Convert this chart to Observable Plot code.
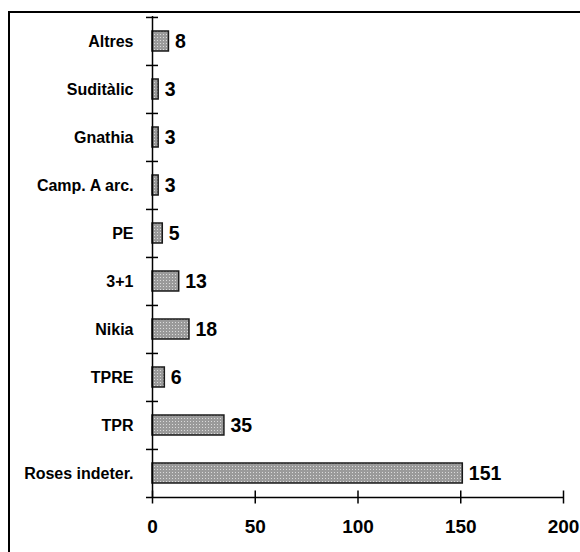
<!DOCTYPE html>
<html><head><meta charset="utf-8">
<script src="https://cdn.jsdelivr.net/npm/d3@7"></script>
<script src="https://cdn.jsdelivr.net/npm/@observablehq/plot@0.6"></script>
<style>
body{margin:0;width:580px;height:552px;overflow:hidden;background:#fff;position:relative}
#frame{position:absolute;left:8px;top:11px;width:640px;height:640px;border-top:2px solid #000;border-left:2px solid #000;box-sizing:border-box}
#chart{position:absolute;left:0;top:0}
</style></head><body><div id="frame"></div><div id="chart"></div>
<script>
const categories = ["Altres","Suditàlic","Gnathia","Camp. A arc.","PE","3+1","Nikia","TPRE","TPR","Roses indeter."];
const values = [8,3,3,3,5,13,18,6,35,151];
const xTicks = [0,50,100,150,200];

const data = categories.map((c,i)=>({category:c, value:values[i]}));
const W=580,H=552, mt=16, mb=55, ml=152, mr=17;
const step = (H-mt-mb)/categories.length;
const font = "Arial, 'Liberation Sans', sans-serif";
const last = categories[categories.length-1];

const plot = Plot.plot({
  width:W, height:H, marginTop:mt, marginBottom:mb, marginLeft:ml, marginRight:mr,
  style:{fontFamily: font, background:"transparent", overflow:"visible", color:"#000"},
  x:{domain:[0,200], ticks: xTicks},
  y:{domain:categories, paddingInner:0.59, paddingOuter:0.295},
  marks:[
    Plot.barX(data,{x:"value", y:"category", fill:"url(#stipple)", stroke:"#1a1a1a", strokeWidth:1.5}),
    Plot.ruleX([0],{stroke:"#000", strokeWidth:1.5}),
    Plot.ruleY(data,{y:"category", x1:0, x2:0, insetLeft:-6, insetRight:-6, dy:-step/2, stroke:"#000", strokeWidth:1.5}),
    Plot.ruleY([last],{y:d=>d, x1:0, x2:200, insetLeft:-6, dy:step/2, stroke:"#000", strokeWidth:1.5}),
    Plot.axisY({tickSize:0, tickPadding:19, fontSize:16, fontWeight:"bold", fill:"#000", label:null}),
    Plot.axisX({tickSize:13, dy:-6.5, tickPadding:15.5, fontSize:19, fontWeight:"bold", fill:"#000", stroke:"#000", strokeWidth:1.5, label:null}),
    Plot.text(data,{x:"value", y:"category", text:d=>String(d.value), dx:6, textAnchor:"start", fontSize:19.5, fontWeight:"bold", fill:"#000"})
  ]
});

const svg = d3.select(plot);
const defs = svg.insert("defs",":first-child");
const p = defs.append("pattern").attr("id","stipple").attr("patternUnits","userSpaceOnUse").attr("width",3).attr("height",3);
p.append("rect").attr("width",3).attr("height",3).attr("fill","#9a9a9a");
p.append("rect").attr("x",1).attr("y",1).attr("width",1).attr("height",1).attr("fill","#dadada");

document.getElementById("chart").appendChild(plot);
</script></body></html>
